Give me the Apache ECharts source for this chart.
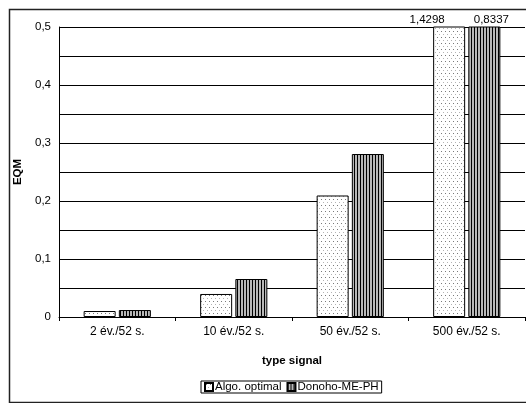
<!DOCTYPE html>
<html>
<head>
<meta charset="utf-8">
<script src="https://cdn.jsdelivr.net/npm/echarts@6/dist/echarts.min.js"></script>
<style>
html,body{margin:0;padding:0;background:#fff;}
#c{width:526px;height:403px;}
</style>
</head>
<body>
<div id="c"></div>
<script>
const categories = ['2 év./52 s.', '10 év./52 s.', '50 év./52 s.', '500 év./52 s.'];
const algoOptimal = [0.0103, 0.0397, 0.2095, 1.4298];
const donohoMEPH = [0.0120, 0.0655, 0.2810, 0.8337];
const seriesNames = ['Algo. optimal', 'Donoho-ME-PH'];
const yMax = 0.5;

function dotPattern() {
  const c = document.createElement('canvas');
  c.width = 4; c.height = 6;
  const g = c.getContext('2d');
  g.fillStyle = '#ffffff'; g.fillRect(0, 0, 4, 6);
  g.fillStyle = '#7a7a7a'; g.fillRect(1, 1, 1, 1);
  g.fillStyle = '#b4b4b4'; g.fillRect(3, 4, 1, 1);
  return c;
}
function stripePattern() {
  const c = document.createElement('canvas');
  c.width = 3; c.height = 3;
  const g = c.getContext('2d');
  g.fillStyle = '#b8b8b8'; g.fillRect(0, 0, 3, 3);
  g.fillStyle = '#000000'; g.fillRect(0, 0, 1, 3);
  return c;
}
const fmt = v => String(v).replace('.', ',');

function mkData(arr) {
  return arr.map(v => ({ value: v, label: { show: v > yMax } }));
}

const chart = echarts.init(document.getElementById('c'), null, { renderer: 'canvas' });
const font = 'Liberation Sans, Arial, sans-serif';
chart.setOption({
  animation: false,
  textStyle: { fontFamily: font },
  graphic: [{
    type: 'rect', left: 7, top: 7, silent: true, z: -1,
    shape: { width: 540, height: 393 },
    style: { fill: 'none', stroke: '#222', lineWidth: 1.5 }
  }],
  grid: { left: 59, right: 1, top: 27, bottom: 86 },
  legend: {
    top: 381, left: 201,
    data: seriesNames,
    itemWidth: 8, itemHeight: 8, itemGap: 5,
    borderColor: '#000', borderWidth: 1, padding: [0, 3, 0, 3],
    textStyle: { fontSize: 11.5, color: '#000', fontFamily: font, padding: [0, 0, 0, -3] },
    icon: 'rect'
  },
  xAxis: {
    type: 'category', data: categories,
    name: 'type signal', nameLocation: 'middle', nameGap: 38,
    nameTextStyle: { fontWeight: 'bold', fontSize: 11.5, color: '#000', fontFamily: font },
    axisLine: { lineStyle: { color: '#000', width: 1 } },
    axisTick: { show: true, length: 4, lineStyle: { color: '#000' } },
    axisLabel: { fontSize: 12, color: '#000', margin: 9, fontFamily: font }
  },
  yAxis: {
    type: 'value', min: 0, max: yMax, interval: 0.05,
    name: 'EQM', nameLocation: 'middle', nameGap: 33,
    nameTextStyle: { fontWeight: 'bold', fontSize: 11.5, color: '#000', fontFamily: font },
    axisLine: { show: true, lineStyle: { color: '#000', width: 1 } },
    axisTick: { show: false },
    splitLine: { lineStyle: { color: '#000', width: 1 } },
    axisLabel: {
      fontSize: 11.5, color: '#000', margin: 8, fontFamily: font,
      formatter: v => {
        const t = Math.round(v * 100);
        if (t % 10 !== 0) return '';
        return fmt(+(v.toFixed(1))).replace(/,0$/, '');
      }
    }
  },
  series: [
    {
      name: seriesNames[0], type: 'bar', barWidth: 32, barGap: '10%',
      data: mkData(algoOptimal),
      itemStyle: { color: { image: dotPattern(), repeat: 'repeat' }, borderColor: '#000', borderWidth: 1 },
      label: { position: 'top', distance: 1, offset: [-22, 0], fontSize: 11.5, color: '#000', fontFamily: font, formatter: p => fmt(p.value) }
    },
    {
      name: seriesNames[1], type: 'bar', barWidth: 32, barGap: '10%',
      data: mkData(donohoMEPH),
      itemStyle: { color: { image: stripePattern(), repeat: 'repeat' }, borderColor: '#000', borderWidth: 1 },
      label: { position: 'top', distance: 1, offset: [7, 0], fontSize: 11.5, color: '#000', fontFamily: font, formatter: p => fmt(p.value) }
    }
  ]
});
</script>
</body>
</html>
